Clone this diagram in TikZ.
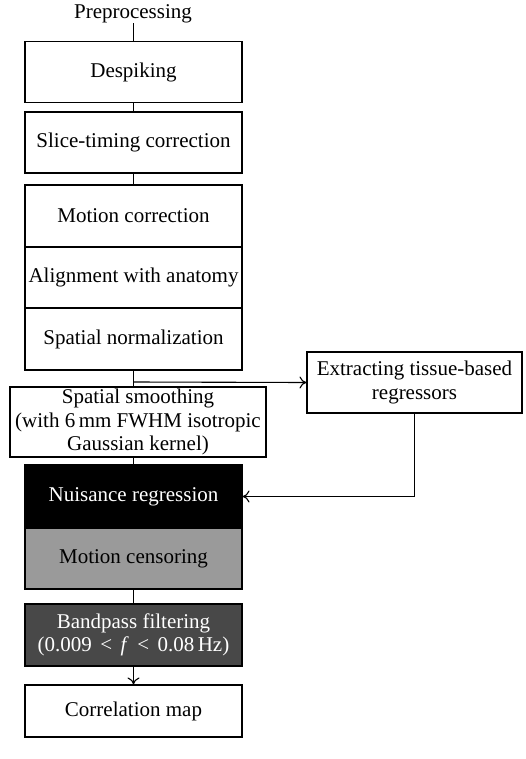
\documentclass[tikz,border=0pt]{standalone}
\usepackage{fontspec}
\setmainfont{Liberation Serif}
\usetikzlibrary{arrows.meta}
\definecolor{midgray}{HTML}{9A9A9A}
\definecolor{darkgray}{HTML}{484848}
\newcommand{\relsp}{\hspace{0.4em}}
\begin{document}
\begin{tikzpicture}[x=1pt,y=-1pt,
  box/.style={draw, line width=1.1pt, minimum width=217pt, minimum height=61pt,
    inner sep=0pt, align=center, font=\fontsize{21}{23.5}\selectfont},
  conn/.style={line width=1.1pt},
  arr/.style={line width=1.1pt, -{To[length=7pt,width=12pt]}}]
\useasboundingbox (0,0) rectangle (526,759);
\node[inner sep=0pt, font=\fontsize{21}{23.5}\selectfont] (pre) at (133,14) {Preprocessing};
\node[box] (desp) at (133.5,72) {Despiking};
\node[box] (slice) at (133.5,142.5) {Slice-timing correction};
\node[box, minimum height=62pt] (motion) at (133.5,216) {Motion correction};
\node[box] (align) at (133.5,277.5) {Alignment with anatomy};
\node[box, minimum height=62pt] (norm) at (133.5,339) {Spatial normalization};
\node[box, minimum width=256pt, minimum height=70pt] (smooth) at (138,422) {Spatial smoothing\\(with 6\,mm FWHM isotropic\\Gaussian kernel)};
\node[box, minimum width=215pt] (extr) at (414.5,382.5) {Extracting tissue-based\\regressors};
\node[box, fill=black, text=white, minimum height=63pt] (nuis) at (133.5,496.5) {Nuisance regression};
\node[box, fill=midgray] (cens) at (133.5,558.5) {Motion censoring};
\node[box, fill=darkgray, text=white, minimum height=62pt] (band) at (133.5,635) {Bandpass filtering\\(0.009\relsp<\relsp\textit{f}\relsp<\relsp0.08\,Hz)};
\node[box, minimum height=52pt] (corr) at (133.5,711) {Correlation map};
\coordinate (br) at (133,382);
\draw[conn] (pre.south -| desp.north) -- (desp.north);
\draw[conn] (desp.south) -- (slice.north);
\draw[conn] (slice.south) -- (motion.north);
\draw[conn] (norm.south) -- (norm.south |- smooth.north);
\draw[arr] (br -| norm.south) -- (extr.west);
\draw[conn] (smooth.south -| nuis.north) -- (nuis.north);
\draw[arr] (extr.south) |- (nuis.east);
\draw[conn] (cens.south) -- (band.north);
\draw[arr] (band.south) -- (corr.north);
\end{tikzpicture}
\end{document}
